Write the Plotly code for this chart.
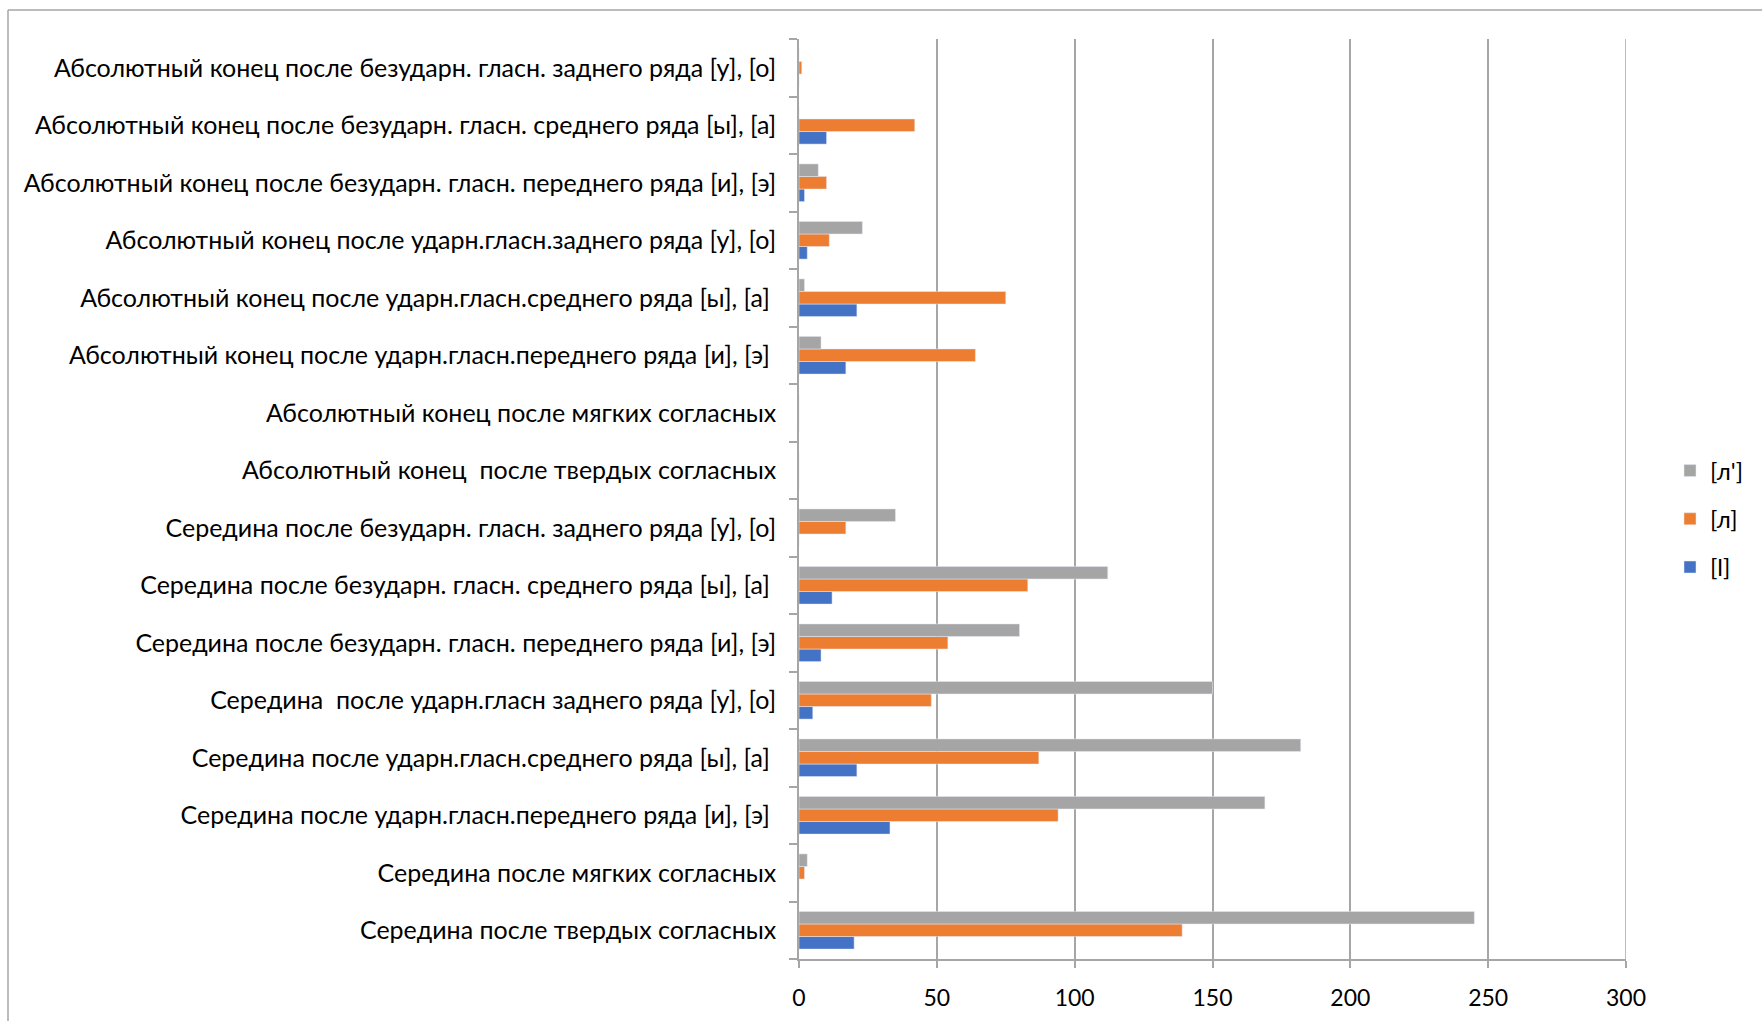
import plotly.graph_objects as go

# Positions of the lateral consonant, listed bottom-to-top as drawn on the axis
categories = [
    "Середина после твердых согласных",
    "Середина после мягких согласных",
    "Середина после ударн.гласн.переднего ряда [и], [э]\u00a0",
    "Середина после ударн.гласн.среднего ряда [ы], [а]\u00a0",
    "Середина \u00a0после ударн.гласн заднего ряда [у], [о]",
    "Середина после безударн. гласн. переднего ряда [и], [э]",
    "Середина после безударн. гласн. среднего ряда [ы], [а]\u00a0",
    "Середина после безударн. гласн. заднего ряда [у], [о]",
    "Абсолютный конец \u00a0после твердых согласных",
    "Абсолютный конец после мягких согласных",
    "Абсолютный конец после ударн.гласн.переднего ряда [и], [э]\u00a0",
    "Абсолютный конец после ударн.гласн.среднего ряда [ы], [а]\u00a0",
    "Абсолютный конец после ударн.гласн.заднего ряда [у], [о]",
    "Абсолютный конец после безударн. гласн. переднего ряда [и], [э]",
    "Абсолютный конец после безударн. гласн. среднего ряда [ы], [а]",
    "Абсолютный конец после безударн. гласн. заднего ряда [у], [о]",
]

# Counts per realisation
l_latin = [20, 0, 33, 21, 5, 8, 12, 0, 0, 0, 17, 21, 3, 2, 10, 0]
l_hard = [139, 2, 94, 87, 48, 54, 83, 17, 0, 0, 64, 75, 11, 10, 42, 1]
l_soft = [245, 3, 169, 182, 150, 80, 112, 35, 0, 0, 8, 2, 23, 7, 0, 0]

x_ticks = [0, 50, 100, 150, 200, 250, 300]

FONT = "Lato"
GRID = "#a6a6a6"

fig = go.Figure()
fig.add_trace(go.Bar(y=categories, x=l_latin, orientation="h", name="[l]",
                     legendgroup="a", legendrank=3,
                     marker=dict(color="#4472c4")))
fig.add_trace(go.Bar(y=categories, x=l_hard, orientation="h", name="[л]",
                     legendgroup="b", legendrank=2,
                     marker=dict(color="#ed7d31")))
fig.add_trace(go.Bar(y=categories, x=l_soft, orientation="h", name="[л']",
                     legendgroup="c", legendrank=1,
                     marker=dict(color="#a5a5a5")))

L, R, T, B = 799, 1626, 39, 959
W, H = 1762, 1021
pw, ph = R - L, B - T


def px_x(p):
    return (p - L) / pw


def px_y(p):
    return (B - p) / ph


fig.update_layout(
    width=W, height=H,
    margin=dict(l=L, r=W - R, t=T, b=H - B, pad=0, autoexpand=False),
    paper_bgcolor="white", plot_bgcolor="white",
    barmode="group", bargap=0.345, bargroupgap=0,
    font=dict(family=FONT, size=25, color="#000000"),
    legend=dict(
        traceorder="grouped",
        x=px_x(1670), y=px_y(519), xanchor="left", yanchor="middle",
        font=dict(family=FONT, size=24, color="#000000"),
        tracegroupgap=14, itemwidth=30,
        bgcolor="rgba(0,0,0,0)",
    ),
    xaxis=dict(
        range=[0, 300], tickvals=x_ticks, ticktext=[str(v) for v in x_ticks],
        showgrid=True, gridcolor=GRID, gridwidth=1.5,
        showline=True, linecolor=GRID, linewidth=1.5,
        ticks="outside", ticklen=7, tickcolor=GRID, tickwidth=1.5,
        zeroline=False, ticklabelstandoff=11,
        tickfont=dict(family=FONT, size=23, color="#000000"),
    ),
    yaxis=dict(
        type="category", categoryorder="array", categoryarray=categories,
        showgrid=False, showline=True, linecolor=GRID, linewidth=1.5,
        ticks="outside", ticklen=8, tickcolor=GRID, tickwidth=1.5,
        tickson="boundaries", ticklabelstandoff=16,
        tickfont=dict(family=FONT, size=25, color="#000000"),
        zeroline=False,
    ),
    shapes=[
        # gridline at the right end of the value axis
        dict(type="line", xref="x", yref="paper",
             x0=x_ticks[-1], x1=x_ticks[-1], y0=0, y1=1,
             line=dict(color=GRID, width=1.5)),
        # chart-area frame
        dict(type="line", xref="paper", yref="paper",
             x0=px_x(8), y0=px_y(10), x1=px_x(1780), y1=px_y(10),
             line=dict(color="#a6a6a6", width=1.5)),
        dict(type="line", xref="paper", yref="paper",
             x0=px_x(8), y0=px_y(10), x1=px_x(8), y1=px_y(1040),
             line=dict(color="#a6a6a6", width=1.5)),
    ],
)

fig.write_html("out.html")
